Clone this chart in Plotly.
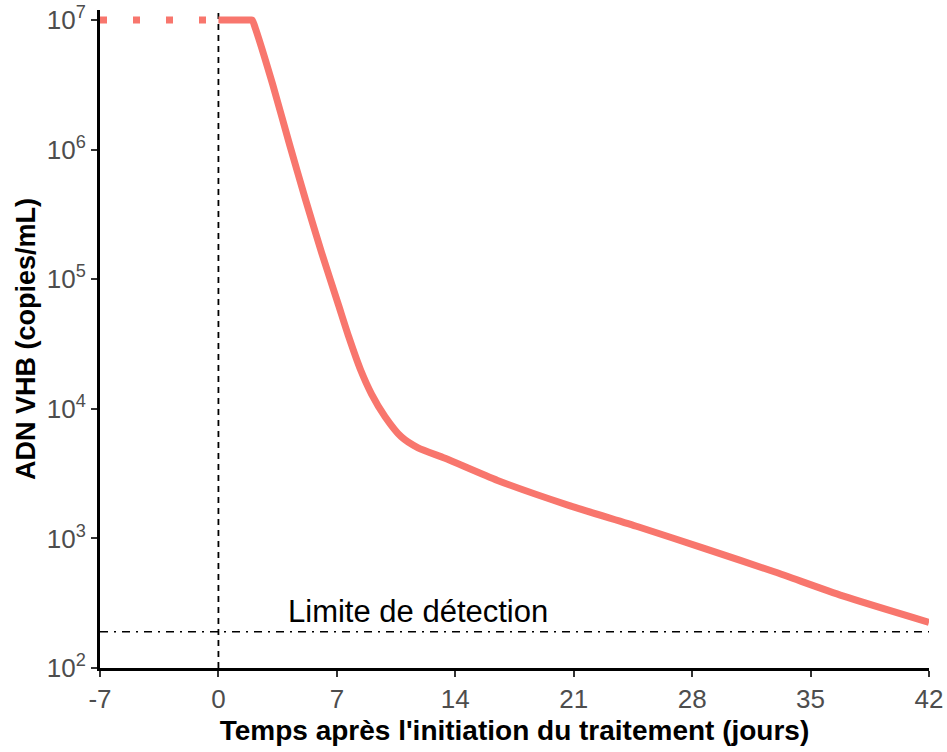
import math
import plotly.graph_objects as go

# Data
pre_days = [-7, 0]
pre_values = [1e7, 1e7]

days = [0, 1.9, 2.0, 2.2, 3.2, 4.2, 5.15, 6.1, 7.1, 7.7, 8.4, 9.05, 9.85, 10.8, 11.8,
        13.4, 16.5, 20.7, 24.8, 28.8, 32.9, 36.9, 42.0]
values = [1e7, 1e7, 1e7, 8.5e6, 3.2e6, 1.1e6, 4.1e5, 1.6e5, 6.3e4, 3.6e4, 2.0e4, 1.3e4,
          8.7e3, 6.1e3, 5.0e3, 4.15e3, 2.8e3, 1.8e3, 1.23e3, 830, 550, 360, 225]

detection_limit = 190
detection_label = "Limite de détection"
label_day = 11.8

x_ticks = [-7, 0, 7, 14, 21, 28, 35, 42]
y_ticks = [1e2, 1e3, 1e4, 1e5, 1e6, 1e7]
y_ticktext = ["10<sup>2</sup>", "10<sup>3</sup>", "10<sup>4</sup>",
              "10<sup>5</sup>", "10<sup>6</sup>", "10<sup>7</sup>"]

RED = "#F8766D"
FONT = "Liberation Sans, Arial, sans-serif"

fig = go.Figure()

# detection limit line
fig.add_trace(go.Scatter(x=[-7, 42], y=[detection_limit, detection_limit], mode="lines",
                         line=dict(color="black", width=1.5, dash="8px,6px,2px,6px"),
                         hoverinfo="skip", showlegend=False))
# vertical line at treatment start
fig.add_trace(go.Scatter(x=[0, 0], y=[100, 1.19e7], mode="lines",
                         line=dict(color="black", width=1.8, dash="6px,5px"),
                         hoverinfo="skip", showlegend=False))
# pre-treatment dotted
fig.add_trace(go.Scatter(x=pre_days, y=pre_values, mode="lines",
                         line=dict(color=RED, width=7, dash="7px,26px"),
                         showlegend=False))
# treatment decline
fig.add_trace(go.Scatter(x=days, y=values, mode="lines",
                         line=dict(color=RED, width=7, shape="spline", smoothing=0.6),
                         showlegend=False))

fig.add_annotation(x=label_day, y=math.log10(detection_limit), text=detection_label,
                   showarrow=False, yanchor="bottom", yshift=1,
                   font=dict(family=FONT, size=31, color="black"))

fig.update_layout(
    width=947, height=752,
    margin=dict(l=100, r=18, t=10, b=84),
    plot_bgcolor="white", paper_bgcolor="white",
    font=dict(family=FONT),
)
fig.update_xaxes(range=[-7, 42], tickvals=x_ticks, ticktext=[str(v) for v in x_ticks],
                 automargin=False,
                 showgrid=False, zeroline=False, showline=True, linecolor="black",
                 linewidth=3, ticks="outside", ticklen=6, tickwidth=1.5, tickcolor="#333333",
                 tickfont=dict(family=FONT, size=26, color="#4D4D4D"),
                 title=dict(text="<b>Temps après l'initiation du traitement (jours)</b>",
                            font=dict(family=FONT, size=28, color="black"), standoff=8))
fig.update_yaxes(type="log", range=[2, 7.077], tickvals=y_ticks, ticktext=y_ticktext,
                 automargin=False,
                 showgrid=False, zeroline=False, showline=True, linecolor="black",
                 linewidth=3, ticks="outside", ticklen=6, tickwidth=1.5, tickcolor="#333333",
                 tickfont=dict(family=FONT, size=26, color="#4D4D4D"),
                 title=dict(text="<b>ADN VHB (copies/mL)</b>",
                            font=dict(family=FONT, size=27, color="black"), standoff=4))

fig.write_html("out.html")
